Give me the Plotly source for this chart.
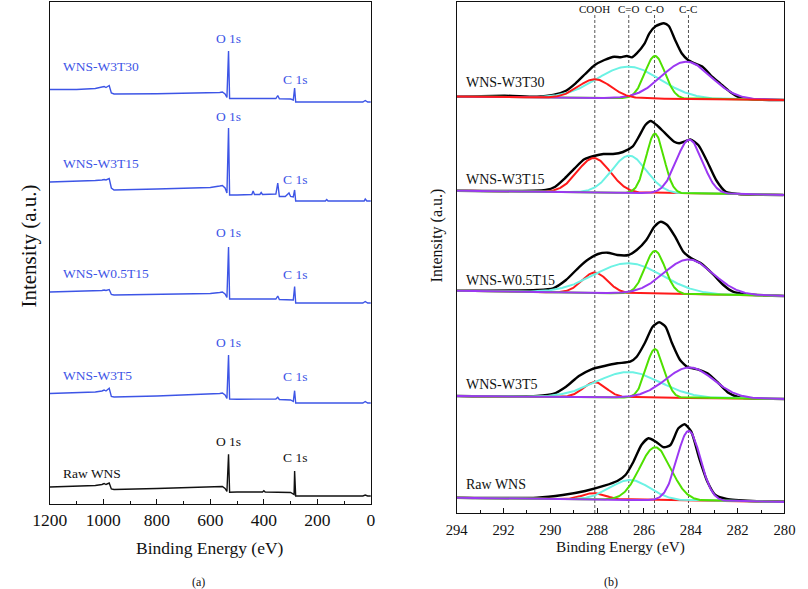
import numpy as np
import plotly.graph_objects as go

FONT = "Liberation Serif"
BLUE = "#3d55e6"

# ---------------- Panel (a): XPS survey spectra ----------------
survey_names = ["WNS-W3T30", "WNS-W3T15", "WNS-W0.5T15", "WNS-W3T5", "Raw WNS"]
survey_offsets = [402, 303, 201, 101, 8]

w3t30_ev = [1200, 1100, 1030, 1005, 997, 990, 978, 970, 960, 800, 600, 565, 555, 545, 538, 532, 528,
            500, 400, 355, 348, 342, 300, 290, 285, 281, 200, 30, 21, 12, 0]
w3t30_int = [12.5, 12.5, 13.5, 14.5, 15.5, 14.5, 16.5, 9, 8, 8.3, 8.7, 9.5, 10, 8, 4.5, 51, 3.5,
             3.5, 3.3, 3.5, 6.5, 3.3, 3, 2, 14, 0, 0, 0, 1.5, 0, 0]

w3t15_ev = [1200, 1100, 1030, 1005, 997, 990, 978, 970, 960, 800, 600, 565, 555, 545, 538, 532, 528,
            500, 445, 440, 435, 415, 410, 405, 355, 348, 342, 320, 306, 300, 290, 285, 281, 170, 165,
            160, 25, 21, 15, 0]
w3t15_int = [19, 19.5, 20.5, 21, 21.5, 21, 22.5, 13, 11, 12, 13.5, 15, 15.5, 13, 8, 73, 6,
             6, 6.5, 10, 6.5, 6.5, 8.5, 6.5, 7, 18, 4.5, 4.5, 8, 4.5, 4, 11, 0, 0, 1.5,
             0, 0, 2, 0, 0]

w05t15_ev = [1200, 1100, 1030, 1005, 997, 990, 978, 970, 960, 800, 600, 565, 555, 545, 538, 532, 528,
             500, 355, 348, 342, 290, 285, 281, 30, 21, 12, 0]
w05t15_int = [11, 11.5, 12, 12.5, 13, 12.5, 13.5, 8.5, 8, 9, 9.5, 10.5, 11, 9, 5.5, 56, 4,
              4, 4, 7, 3.5, 3, 16.5, 0, 0, 1.5, 0, 0]

w3t5_ev = [1200, 1100, 1030, 1005, 997, 990, 978, 970, 960, 800, 600, 565, 555, 545, 538, 532, 528,
           500, 355, 348, 342, 300, 290, 285, 281, 30, 21, 12, 0]
w3t5_int = [9.5, 10, 11, 12, 13, 12, 14.7, 6.5, 6, 7, 8.5, 9.5, 10, 8, 4.5, 48, 4,
            3.7, 4, 5.7, 3.5, 3, 1.5, 12.3, 0, 0, 1.5, 0, 0]

raw_ev = [1200, 1100, 1030, 1005, 997, 990, 978, 970, 960, 800, 600, 565, 555, 545, 538, 532, 528,
          500, 405, 400, 395, 300, 292, 287, 285, 281, 30, 21, 12, 0]
raw_int = [9, 9.5, 10.5, 11.5, 12.5, 11.5, 13, 7, 6.5, 7.5, 8.7, 9.5, 9.5, 7.5, 4.5, 41.7, 3.7,
           4, 4, 5.3, 4, 3.5, 2, 1.5, 25, 0, 0, 1, 0, 0]

survey_ev = [w3t30_ev, w3t15_ev, w05t15_ev, w3t5_ev, raw_ev]
survey_int = [w3t30_int, w3t15_int, w05t15_int, w3t5_int, raw_int]
survey_colors = [BLUE, BLUE, BLUE, BLUE, "#111111"]

# label offsets above each spectrum (name, O 1s, C 1s)
name_dy = [36, 38, 30, 28, 23]
o1s_dy = [64, 85, 71, 61, 55]
c1s_dy = [23, 22, 29, 27, 39]

# ---------------- Panel (b): C 1s high resolution ----------------
hr_names = ["WNS-W3T30", "WNS-W3T15", "WNS-W0.5T15", "WNS-W3T5", "Raw WNS"]
hr_offsets = [413, 318, 217, 114, 11]
hr_base_left = [3.5, 4.3, 5.3, 3.0, 4.3]
hr_name_dy = [18, 16, 16, 15, 18]

env_ev = [
    [294, 291.94, 290.57, 289.88, 289.33, 288.92, 288.51, 288.10, 287.69, 287.27, 287.00, 286.73, 286.52,
     286.31, 285.97, 285.77, 285.49, 285.15, 284.94, 284.67, 284.39, 284.12, 283.84, 283.50, 283.16,
     282.75, 282.33, 281.92, 281.37, 280.27, 280.0],
    [294, 290.2, 289.79, 289.38, 288.96, 288.55, 288.14, 287.73, 287.32, 286.90, 286.49, 286.22, 285.94,
     285.71, 285.46, 285.12, 284.71, 284.50, 284.29, 284.02, 283.68, 283.33, 282.92, 282.51, 281.96, 281.0, 280.04],
    [294, 290.57, 289.88, 289.33, 288.78, 288.37, 287.96, 287.55, 287.14, 286.66, 286.31, 285.90, 285.56,
     285.28, 285.01, 284.67, 284.32, 283.98, 283.57, 283.02, 282.61, 282.20, 281.65, 280.0],
    [294, 290.57, 289.88, 289.33, 288.78, 288.24, 287.69, 287.14, 286.59, 286.31, 285.97, 285.63, 285.35,
     285.08, 284.80, 284.46, 284.12, 283.71, 283.29, 282.81, 282.40, 281.92, 280.0],
    [294, 290.57, 289.47, 288.51, 287.69, 287.14, 286.79, 286.45, 286.11, 285.81, 285.49, 285.15, 284.87,
     284.53, 284.26, 283.98, 283.64, 283.29, 282.95, 282.47, 281.37, 280.0],
]
env_int = [
    [3.3, 4.3, 3.3, 5, 9.3, 16.7, 26, 35, 40, 43.3, 42.7, 44, 42.7, 46.7, 56.7, 66.7, 74, 76.7, 74, 60,
     46.7, 40, 36.7, 33.3, 25, 16.7, 8.3, 2.7, 0.7, 0, 0],
    [4.3, 5, 8.3, 16.7, 26.7, 35.7, 39, 41, 41, 43, 48.3, 58.3, 70, 74, 70, 62.3, 53.3, 51.7, 53.3, 55.5, 50,
     35, 15, 3.3, 1, 0.3, 0],
    [5.3, 6, 7.7, 16, 28.7, 36.7, 42, 43.3, 41, 41, 46, 56, 69.3, 74.3, 71, 59.3, 44.3, 37.7, 32.7, 21,
     11, 4.3, 1.7, 0],
    [3, 3, 5, 12.3, 23, 29.7, 33, 35.7, 37.3, 42.3, 55.7, 72.3, 76.7, 72.3, 55.7, 39, 31.7, 29.7, 25.7,
     15.7, 6.3, 1.7, 0],
    [4.3, 4.3, 7, 11, 16.3, 21, 27, 40.3, 57, 63.7, 60.3, 54.7, 57, 73.7, 77.7, 70.3, 43.7, 20.3, 7, 3,
     1, 0.3],
]

comp_names = ["COOH", "C=O", "C-O", "C-C"]
comp_colors = ["#ff1a1a", "#6cf2e4", "#4fe000", "#9b38f2"]
comp_center = [
    [288.10, 286.66, 285.53, 284.19],
    [288.14, 286.63, 285.53, 284.06],
    [288.10, 286.66, 285.53, 284.09],
    [288.10, 286.66, 285.53, 284.05],
    [288.13, 286.59, 285.52, 284.09],
]
comp_height = [
    [18.7, 31.7, 42.6, 37.3],
    [34.4, 37.3, 59.6, 54.0],
    [20.4, 30.3, 43.0, 35.0],
    [15.0, 25.6, 48.7, 30.7],
    [6.4, 20.0, 53.0, 69.8],
]
comp_sigma = [
    [0.70, 1.35, 0.43, 1.05],
    [0.70, 0.74, 0.38, 0.56],
    [0.54, 1.45, 0.43, 1.05],
    [0.49, 1.37, 0.38, 1.02],
    [0.50, 0.85, 0.67, 0.50],
]
ref_lines = [288.1, 286.65, 285.55, 284.1]

fig = go.Figure()

# survey spectra
for i in range(len(survey_names)):
    off = survey_offsets[i]
    fig.add_trace(go.Scatter(
        x=survey_ev[i], y=[off + v for v in survey_int[i]], mode="lines",
        line=dict(color=survey_colors[i], width=1.4), xaxis="x", yaxis="y",
        showlegend=False, hoverinfo="skip"))

# high-resolution spectra
grid = np.linspace(280, 294, 561)
for i in range(len(hr_names)):
    off = hr_offsets[i]
    base = hr_base_left[i] * (grid - 280) / 14.0
    fig.add_trace(go.Scatter(
        x=env_ev[i], y=[off + v for v in env_int[i]], mode="lines",
        line=dict(color="#000000", width=2.4, shape="spline", smoothing=0.6),
        xaxis="x2", yaxis="y2", showlegend=False, hoverinfo="skip"))
    order = [1, 2, 3, 0] if i == 0 else [0, 1, 2, 3]
    for k in order:
        g = comp_height[i][k] * np.exp(-(grid - comp_center[i][k]) ** 2 / (2 * comp_sigma[i][k] ** 2))
        fig.add_trace(go.Scatter(
            x=grid, y=off + base + g, mode="lines",
            line=dict(color=comp_colors[k], width=2.0),
            xaxis="x2", yaxis="y2", showlegend=False, hoverinfo="skip"))

annotations = []
for i in range(len(survey_names)):
    off = survey_offsets[i]
    col = survey_colors[i]
    annotations.append(dict(x=1160, y=off + name_dy[i], xref="x", yref="y", text=survey_names[i],
                            showarrow=False, xanchor="left", yanchor="middle",
                            font=dict(family=FONT, size=13.5, color=col)))
    annotations.append(dict(x=533, y=off + o1s_dy[i], xref="x", yref="y", text="O 1s",
                            showarrow=False, xanchor="center", yanchor="middle",
                            font=dict(family=FONT, size=13.5, color=col)))
    annotations.append(dict(x=283, y=off + c1s_dy[i], xref="x", yref="y", text="C 1s",
                            showarrow=False, xanchor="center", yanchor="middle",
                            font=dict(family=FONT, size=13.5, color=col)))

for i in range(len(hr_names)):
    annotations.append(dict(x=293.7, y=hr_offsets[i] + hr_name_dy[i], xref="x2", yref="y2",
                            text=hr_names[i], showarrow=False, xanchor="left", yanchor="middle",
                            font=dict(family=FONT, size=14, color="#111111")))

for k in range(4):
    annotations.append(dict(x=ref_lines[k], y=504, xref="x2", yref="y2", text=comp_names[k],
                            showarrow=False, xanchor="center", yanchor="middle",
                            font=dict(family=FONT, size=11, color="#111111")))

H = 589.0
def py(p):
    return 1 - p / H

annotations += [
    dict(x=199.5 / 808, y=py(548), xref="paper", yref="paper", text="Binding Energy (eV)",
         showarrow=False, xanchor="center", yanchor="middle", font=dict(family=FONT, size=17.5, color="#111")),
    dict(x=625 / 808, y=py(547), xref="paper", yref="paper", text="Binding Energy (eV)",
         showarrow=False, xanchor="center", yanchor="middle", font=dict(family=FONT, size=15.3, color="#111")),
    dict(x=11 / 808, y=py(246), xref="paper", yref="paper", text="Intensity (a.u.)", textangle=-90,
         showarrow=False, xanchor="center", yanchor="middle", font=dict(family=FONT, size=21, color="#111")),
    dict(x=435 / 808, y=py(235), xref="paper", yref="paper", text="Intensity (a.u.)", textangle=-90,
         showarrow=False, xanchor="center", yanchor="middle", font=dict(family=FONT, size=16, color="#111")),
    dict(x=187 / 808, y=py(582), xref="paper", yref="paper", text="(a)",
         showarrow=False, xanchor="center", yanchor="middle", font=dict(family=FONT, size=12, color="#111")),
    dict(x=615 / 808, y=py(582), xref="paper", yref="paper", text="(b)",
         showarrow=False, xanchor="center", yanchor="middle", font=dict(family=FONT, size=12, color="#111")),
]

shapes = []
for c in ref_lines:
    shapes.append(dict(type="line", xref="x2", yref="y2", x0=c, x1=c, y0=0, y1=498,
                       line=dict(color="#555555", width=1, dash="3px,2px"), layer="below"))

axis_common = dict(showline=True, linecolor="#111111", linewidth=1.3, mirror=True,
                   showgrid=False, zeroline=False)

fig.update_layout(
    width=808, height=589, margin=dict(l=0, r=0, t=0, b=0),
    paper_bgcolor="white", plot_bgcolor="white", showlegend=False,
    xaxis=dict(domain=[33 / 808, 366 / 808], range=[1200, 0], anchor="y",
               tick0=0, dtick=200, ticks="inside", ticklen=5, tickcolor="#111",
               minor=dict(dtick=100, ticks="inside", ticklen=3, tickcolor="#111"),
               tickfont=dict(family=FONT, size=17.5, color="#111"), **axis_common),
    yaxis=dict(domain=[1 - 504 / H, 1 - 2 / H], range=[0, 502], anchor="x",
               showticklabels=False, ticks="", **axis_common),
    xaxis2=dict(domain=[455 / 808, 795 / 808], range=[294, 280], anchor="y2",
                tick0=280, dtick=2, ticks="inside", ticklen=5, tickcolor="#111",
                ticklabelstandoff=3,
                minor=dict(dtick=1, ticks="inside", ticklen=3, tickcolor="#111"),
                tickfont=dict(family=FONT, size=14.7, color="#111"), **axis_common),
    yaxis2=dict(domain=[1 - 513 / H, 1 - 2 / H], range=[0, 511], anchor="x2",
                showticklabels=False, ticks="", **axis_common),
    annotations=annotations, shapes=shapes,
)

fig.write_html("out.html")
